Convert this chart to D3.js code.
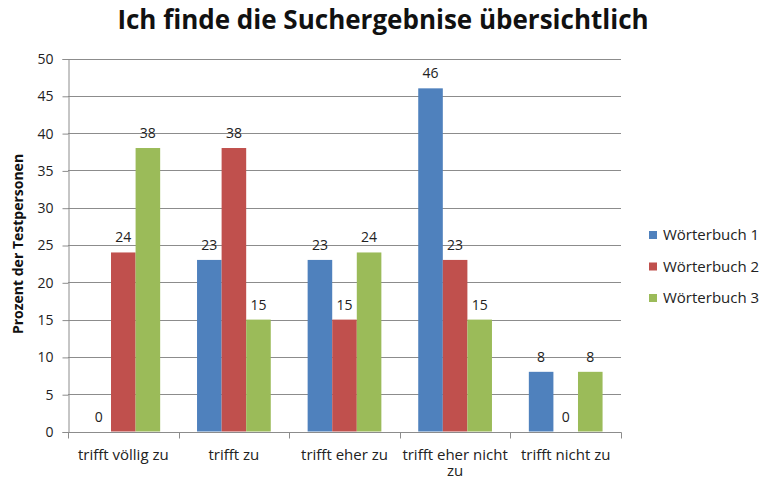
<!doctype html>
<meta charset='utf-8'>
<title>Suchergebnisse</title>
<style type="text/css">
	body { margin:0; background:#fff; }
	svg { font-family:'Open Sans', sans-serif; }
</style>
<div id='chart'></div>
<script src="https://cdnjs.cloudflare.com/ajax/libs/d3/7.8.5/d3.min.js" charset="utf-8"></script>
<script>

	var categories = [['trifft völlig zu'], ['trifft zu'], ['trifft eher zu'], ['trifft eher nicht', 'zu'], ['trifft nicht zu']]
	var seriesNames = ['Wörterbuch 1', 'Wörterbuch 2', 'Wörterbuch 3']
	var seriesColors = ['#4f81bd', '#c0504d', '#9bbb59']
	var wb1 = [0, 23, 23, 46, 8]
	var wb2 = [24, 38, 15, 23, 0]
	var wb3 = [38, 15, 24, 15, 8]
	var yTicks = [0, 5, 10, 15, 20, 25, 30, 35, 40, 45, 50]

	var values = [wb1, wb2, wb3]
	var W = 767, H = 479
	var plotLeft = 68, plotRight = 621, plotTop = 58.5, plotBottom = 431.5

	var svg = d3.select('#chart').append('svg')
		.attr('width', W).attr('height', H)

	var x = d3.scaleBand().domain(d3.range(categories.length)).range([plotLeft, plotRight])
	// excel gap width 150% -> 3 bars take 3/4.5 of the band
	var inner = d3.scaleBand().domain(d3.range(seriesNames.length))
		.range([0, x.bandwidth()]).paddingOuter(0.75).paddingInner(0)
	var y = d3.scaleLinear().domain([0, 50]).range([plotBottom, plotTop])

	// gridlines
	svg.append('g').selectAll('line').data(yTicks.slice(1)).enter().append('line')
		.attr('x1', plotLeft).attr('x2', plotRight)
		.attr('y1', function(d){ return Math.round(y(d)) + 0.5 })
		.attr('y2', function(d){ return Math.round(y(d)) + 0.5 })
		.style('stroke', '#8c8c8c').style('stroke-width', '1px')

	// bars
	values.forEach(function(vals, s) {
		svg.append('g').selectAll('rect').data(vals).enter().append('rect')
			.attr('x', function(d, i){ return x(i) + inner(s) })
			.attr('width', inner.bandwidth())
			.attr('y', function(d){ return y(d) })
			.attr('height', function(d){ return y(0) - y(d) })
			.style('fill', seriesColors[s])

		svg.append('g').selectAll('text').data(vals).enter().append('text')
			.attr('x', function(d, i){ return x(i) + inner(s) + inner.bandwidth() / 2 })
			.attr('y', function(d){ return y(d) - 10 })
			.attr('text-anchor', 'middle')
			.style('font-size', '14px').style('fill', '#222')
			.text(function(d){ return d })
	})

	// y axis
	var yAxis = svg.append('g')
		.attr('transform', 'translate(' + (plotLeft + 0.5) + ',0.5)')
		.call(d3.axisLeft(y).tickValues(yTicks).tickSize(6).tickPadding(9))
	yAxis.select('.domain').style('stroke', '#8c8c8c')
	yAxis.selectAll('.tick line').style('stroke', '#8c8c8c')
	yAxis.selectAll('text').style('font-size', '14px').style('fill', '#222').style('font-family', "'Open Sans', sans-serif")

	// x axis
	var xAxisG = svg.append('g').attr('transform', 'translate(0,' + (Math.round(plotBottom) + 0.5) + ')')
	xAxisG.append('line').attr('x1', plotLeft).attr('x2', plotRight + 0.5)
		.style('stroke', '#8c8c8c')
	xAxisG.selectAll('.xt').data(d3.range(categories.length + 1)).enter().append('line')
		.attr('class', 'xt')
		.attr('x1', function(d){ return Math.round(plotLeft + d * x.step()) + 0.5 })
		.attr('x2', function(d){ return Math.round(plotLeft + d * x.step()) + 0.5 })
		.attr('y1', 0).attr('y2', 6)
		.style('stroke', '#8c8c8c')
	var catText = xAxisG.selectAll('.xl').data(categories).enter().append('text')
		.attr('class', 'xl')
		.attr('text-anchor', 'middle')
		.attr('x', function(d, i){ return x(i) + x.bandwidth() / 2 })
		.attr('y', 27)
		.style('font-size', '15px').style('fill', '#222')
	catText.selectAll('tspan').data(function(d){ return d }).enter().append('tspan')
		.attr('x', function(){ return d3.select(this.parentNode).attr('x') })
		.attr('dy', function(d, i){ return i ? 16 : 0 })
		.text(function(d){ return d })

	// title
	svg.append('text')
		.attr('x', 383).attr('y', 29)
		.attr('text-anchor', 'middle')
		.style('font-size', '26px').style('font-weight', 'bold').style('fill', '#111')
		.text('Ich finde die Suchergebnise übersichtlich')

	// y title
	svg.append('text')
		.attr('transform', 'translate(23,244) rotate(-90)')
		.attr('text-anchor', 'middle')
		.style('font-size', '14px').style('font-weight', 'bold').style('fill', '#111')
		.text('Prozent der Testpersonen')

	// legend
	var legend = svg.append('g').attr('transform', 'translate(649,235)')
	seriesNames.forEach(function(name, i) {
		var g = legend.append('g').attr('transform', 'translate(0,' + (i * 31.5) + ')')
		g.append('rect').attr('x', 0).attr('y', -4).attr('width', 8).attr('height', 8)
			.style('fill', seriesColors[i])
		g.append('text').attr('x', 14).attr('y', 0).attr('dy', '0.35em')
			.style('font-size', '15px').style('fill', '#222')
			.text(name)
	})

</script>
